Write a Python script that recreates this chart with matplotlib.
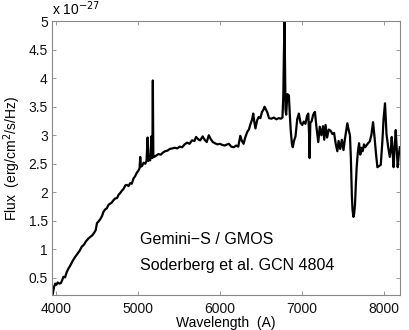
import numpy as np
import matplotlib
matplotlib.use("Agg")
import matplotlib.pyplot as plt
from matplotlib.ticker import FuncFormatter

plt.rcParams['font.family'] = ['Liberation Sans', 'DejaVu Sans']

# spectrum, wavelength in A and flux in units of 1e-27 erg/cm^2/s/Hz
wave = [3960, 3975, 3990, 4005, 4020, 4040, 4060, 4075, 4090, 4110, 4130, 4150,
        4175, 4200, 4230, 4260, 4290, 4315, 4340, 4365, 4395, 4420, 4445, 4465,
        4485, 4500, 4520, 4540, 4560, 4580, 4600, 4620, 4640, 4660, 4680, 4700,
        4720, 4745, 4765, 4785, 4805, 4825, 4845, 4865, 4885, 4905, 4925, 4945,
        4965, 4985, 5005, 5020, 5028, 5036, 5050, 5070, 5090, 5105, 5118, 5128,
        5140, 5150, 5165, 5176, 5182, 5188, 5200, 5220, 5250, 5280, 5300, 5330,
        5360, 5390, 5420, 5450, 5480, 5510, 5540, 5570, 5600, 5630, 5660, 5690,
        5710, 5735, 5760, 5790, 5815, 5840, 5865, 5890, 5915, 5940, 5970, 6000,
        6030, 6060, 6090, 6110, 6140, 6170, 6200, 6225, 6250, 6270, 6290, 6310,
        6335, 6355, 6375, 6395, 6408, 6420, 6435, 6455, 6475, 6495, 6515, 6530,
        6545, 6560, 6580, 6600, 6630, 6660, 6690, 6720, 6745, 6765, 6775, 6782,
        6790, 6796, 6802, 6810, 6825, 6843, 6855, 6865, 6880, 6891, 6905, 6924,
        6945, 6965, 6985, 7006, 7025, 7045, 7065, 7080, 7090, 7096, 7105, 7120,
        7140, 7161, 7180, 7202, 7220, 7240, 7260, 7275, 7291, 7310, 7330, 7353,
        7375, 7395, 7415, 7435, 7450, 7470, 7490, 7510, 7528, 7545, 7557, 7575,
        7589, 7600, 7612, 7620, 7631, 7640, 7651, 7661, 7671, 7685, 7700, 7715,
        7730, 7745, 7760, 7775, 7790, 7810, 7830, 7850, 7871, 7890, 7908, 7924,
        7945, 7965, 7985, 8000, 8017, 8035, 8055, 8075, 8090, 8099, 8110, 8122,
        8135, 8148, 8160, 8172, 8185, 8198]
flux = [0.22, 0.34, 0.40, 0.38, 0.42, 0.40, 0.41, 0.46, 0.52, 0.51, 0.60, 0.66,
        0.72, 0.79, 0.86, 0.92, 0.98, 1.05, 1.08, 1.14, 1.19, 1.22, 1.25, 1.29,
        1.34, 1.46, 1.49, 1.53, 1.58, 1.66, 1.70, 1.72, 1.78, 1.80, 1.82, 1.86,
        1.89, 1.90, 1.96, 1.99, 2.03, 2.06, 2.12, 2.13, 2.11, 2.16, 2.15, 2.24,
        2.28, 2.34, 2.38, 2.42, 2.62, 2.45, 2.46, 2.52, 2.50, 2.55, 2.96, 2.55,
        2.58, 2.56, 2.98, 2.60, 3.96, 2.63, 2.62, 2.64, 2.67, 2.66, 2.69, 2.72,
        2.73, 2.76, 2.77, 2.78, 2.77, 2.80, 2.79, 2.84, 2.87, 2.85, 2.91, 2.90,
        2.97, 2.93, 2.91, 2.98, 2.92, 2.88, 3.00, 2.93, 2.88, 2.86, 2.84, 2.85,
        2.83, 2.82, 2.84, 2.85, 2.80, 2.79, 2.82, 2.80, 2.99, 2.90, 2.85, 2.96,
        3.06, 3.10, 3.20, 3.28, 3.38, 3.24, 3.12, 3.26, 3.32, 3.30, 3.41, 3.44,
        3.50, 3.46, 3.40, 3.30, 3.29, 3.31, 3.28, 3.30, 3.29, 3.31, 3.70, 4.40,
        5.00, 4.30, 3.45, 3.36, 3.72, 3.70, 3.35, 3.10, 2.85, 2.79, 2.90, 2.98,
        3.28, 3.38, 3.22, 3.18, 3.24, 3.20, 3.34, 3.38, 3.02, 2.60, 3.22, 3.24,
        3.36, 3.41, 3.14, 2.88, 3.15, 3.00, 3.16, 2.92, 3.18, 2.96, 3.10, 3.08,
        3.02, 3.04, 2.85, 2.72, 2.90, 2.76, 2.92, 2.74, 2.94, 3.10, 3.21, 3.08,
        3.00, 2.60, 1.95, 1.70, 1.57, 1.62, 1.80, 2.15, 2.44, 2.70, 2.86, 2.66,
        2.78, 2.72, 2.84, 2.79, 2.82, 2.86, 2.89, 3.00, 3.23, 2.95, 2.66, 2.44,
        2.46, 2.48, 2.90, 3.30, 3.56, 3.02, 2.80, 2.62, 2.78, 2.97, 2.70, 2.44,
        2.80, 3.09, 2.75, 2.44, 2.65, 2.79]

xticks = [4000, 5000, 6000, 7000, 8000]
yticks = [0.5, 1, 1.5, 2, 2.5, 3, 3.5, 4, 4.5, 5]

fig = plt.figure(figsize=(4.09, 3.30), dpi=100)
ax = fig.add_axes([0.127, 0.106, 0.851, 0.830])

ax.plot(wave, flux, color='black', lw=1.6)
ax.set_xlim(3950, 8200)
ax.set_ylim(0.2, 5)
ax.set_xticks(xticks)
ax.set_yticks(yticks)
ax.yaxis.set_major_formatter(FuncFormatter(lambda v, p: '%g' % v))

for s in ax.spines.values():
    s.set_color('#888888')
    s.set_linewidth(0.8)
ax.tick_params(direction='in', length=3, width=0.6, color='#888888',
               top=True, right=True, labelsize=10, labelcolor='#111111')
ax.tick_params(axis='x', pad=5)
ax.tick_params(axis='y', pad=3)

ax.set_xlabel('Wavelength  (A)', fontsize=10, labelpad=0)
ax.set_ylabel('Flux  (erg/cm$^2$/s/Hz)', fontsize=10, labelpad=4)
fig.text(0.128, 0.945, r'x 10$^{-27}$', fontsize=10, va='bottom', ha='left')

ax.text(5030, 1.18, 'Gemini\u2212S / GMOS', fontsize=11.5, va='center', ha='left')
ax.text(5030, 0.72, 'Soderberg et al. GCN 4804', fontsize=11.5, va='center', ha='left')

fig.savefig('out.png', dpi=100)
